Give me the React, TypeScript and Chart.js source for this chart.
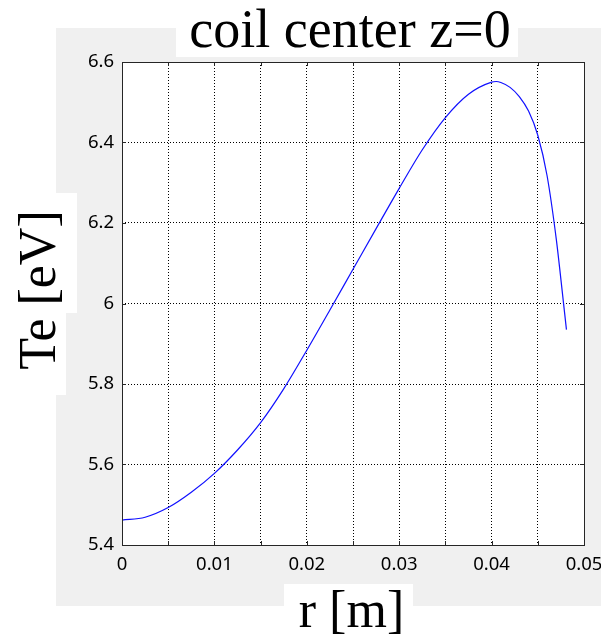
import { useEffect, useRef } from "react";
import { Chart, registerables } from "chart.js";

Chart.register(...registerables);

// Data
const radius = [0, 0.0025, 0.005, 0.0075, 0.01, 0.0125, 0.015, 0.0175, 0.02, 0.0225, 0.025, 0.0275, 0.03, 0.0325, 0.035, 0.0375, 0.04, 0.0405, 0.041, 0.042, 0.043, 0.044, 0.045, 0.046, 0.047, 0.0475, 0.0481];
const temperature = [5.462, 5.469, 5.493, 5.531, 5.578, 5.636, 5.704, 5.788, 5.884, 5.984, 6.085, 6.186, 6.286, 6.382, 6.462, 6.52, 6.55, 6.5515, 6.549, 6.537, 6.514, 6.478, 6.418, 6.318, 6.16, 6.06, 5.935];

const xRange = [0, 0.05];
const yRange = [5.4, 6.6];
const xStep = 0.005;
const yStep = 0.2;

const titleText = "coil center z=0";
const xLabel = "r [m]";
const yLabel = "Te [eV]";

const framePlugin = {
  id: "matlabFrame",
  beforeDraw(chart: any) {
    const { ctx, chartArea } = chart;
    ctx.save();
    // grey figure background
    ctx.fillStyle = "#f0f0f0";
    ctx.fillRect(56, 28, 545, 578);
    // white axes area
    ctx.fillStyle = "#ffffff";
    ctx.fillRect(chartArea.left, chartArea.top, chartArea.right - chartArea.left, chartArea.bottom - chartArea.top);
    // white label boxes
    ctx.fillRect(176, 0, 342, 57);
    ctx.fillRect(284, 584, 129, 56);
    ctx.fillRect(0, 193, 77, 120);
    ctx.fillRect(0, 313, 66, 82);

    ctx.fillStyle = "#000000";
    ctx.textAlign = "center";
    ctx.textBaseline = "alphabetic";
    ctx.font = "54px 'Liberation Serif'";
    ctx.fillText(titleText, 350, 47);
    ctx.font = "52px 'Liberation Serif'";
    ctx.fillText(xLabel, 351.5, 627);
    ctx.translate(55, 290);
    ctx.rotate(-Math.PI / 2);
    ctx.fillText(yLabel, 0, 0);
    ctx.restore();
  },
  afterDatasetsDraw(chart: any) {
    const { ctx, chartArea, scales } = chart;
    const { left, right, top, bottom } = chartArea;
    ctx.save();
    ctx.strokeStyle = "#262626";
    ctx.lineWidth = 1;
    ctx.setLineDash([]);
    ctx.beginPath();
    // inner tick marks
    const tl = 4;
    scales.x.ticks.forEach((t: any) => {
      const px = Math.round(scales.x.getPixelForValue(t.value)) + 0.5;
      ctx.moveTo(px, top);
      ctx.lineTo(px, top + tl);
      ctx.moveTo(px, bottom);
      ctx.lineTo(px, bottom - tl);
    });
    scales.y.ticks.forEach((t: any) => {
      const py = Math.round(scales.y.getPixelForValue(t.value)) + 0.5;
      ctx.moveTo(left, py);
      ctx.lineTo(left + tl, py);
      ctx.moveTo(right, py);
      ctx.lineTo(right - tl, py);
    });
    ctx.stroke();
    ctx.strokeRect(Math.round(left) + 0.5, Math.round(top) + 0.5, Math.round(right - left), Math.round(bottom - top));
    ctx.restore();
  },
};

export default function App() {
  const canvasRef = useRef<HTMLCanvasElement | null>(null);

  useEffect(() => {
    const canvas = canvasRef.current;
    if (!canvas) return;
    const chart = new Chart(canvas, {
      type: "line",
      data: {
        datasets: [
          {
            data: radius.map((r, i) => ({ x: r, y: temperature[i] })),
            borderColor: "#1010ff",
            borderWidth: 1.2,
            pointRadius: 0,
            fill: false,
            cubicInterpolationMode: "monotone",
          },
        ],
      },
      options: {
        animation: false,
        responsive: false,
        devicePixelRatio: 1,
        layout: { padding: { left: 0, top: 62, right: 17, bottom: 0 } },
        plugins: {
          legend: { display: false },
          tooltip: { enabled: false },
          title: { display: false },
        },
        scales: {
          x: {
            type: "linear",
            min: xRange[0],
            max: xRange[1],
            afterFit: (s: any) => {
              s.height = 95;
              s.paddingLeft = 0;
              s.paddingRight = 0;
            },
            ticks: {
              stepSize: xStep,
              autoSkip: false,
              maxRotation: 0,
              padding: 9,
              color: "#000",
              font: { family: "'Noto Sans'", size: 18.5 },
              callback: (v: any) => {
                const n = Number(v);
                return Math.round(n * 1000) % 10 === 0 ? String(Number(n.toFixed(2))) : "";
              },
            },
            grid: { color: "#000", lineWidth: 1, drawTicks: false },
            border: { display: false, dash: [1, 2] },
          },
          y: {
            type: "linear",
            min: yRange[0],
            max: yRange[1],
            afterFit: (s: any) => {
              s.width = 122;
              s.paddingTop = 0;
              s.paddingBottom = 0;
            },
            ticks: {
              stepSize: yStep,
              padding: 8,
              color: "#000",
              font: { family: "'Noto Sans'", size: 18.5 },
              callback: (v: any) => String(Number(Number(v).toFixed(1))),
            },
            grid: { color: "#000", lineWidth: 1, drawTicks: false },
            border: { display: false, dash: [1, 2] },
          },
        },
      },
      plugins: [framePlugin],
    });
    return () => chart.destroy();
  }, []);

  return (
    <div style={{ position: "absolute", left: 0, top: 0, width: 601, height: 640, background: "#fff" }}>
      <canvas ref={canvasRef} width={601} height={640} style={{ display: "block", width: 601, height: 640 }} />
    </div>
  );
}
